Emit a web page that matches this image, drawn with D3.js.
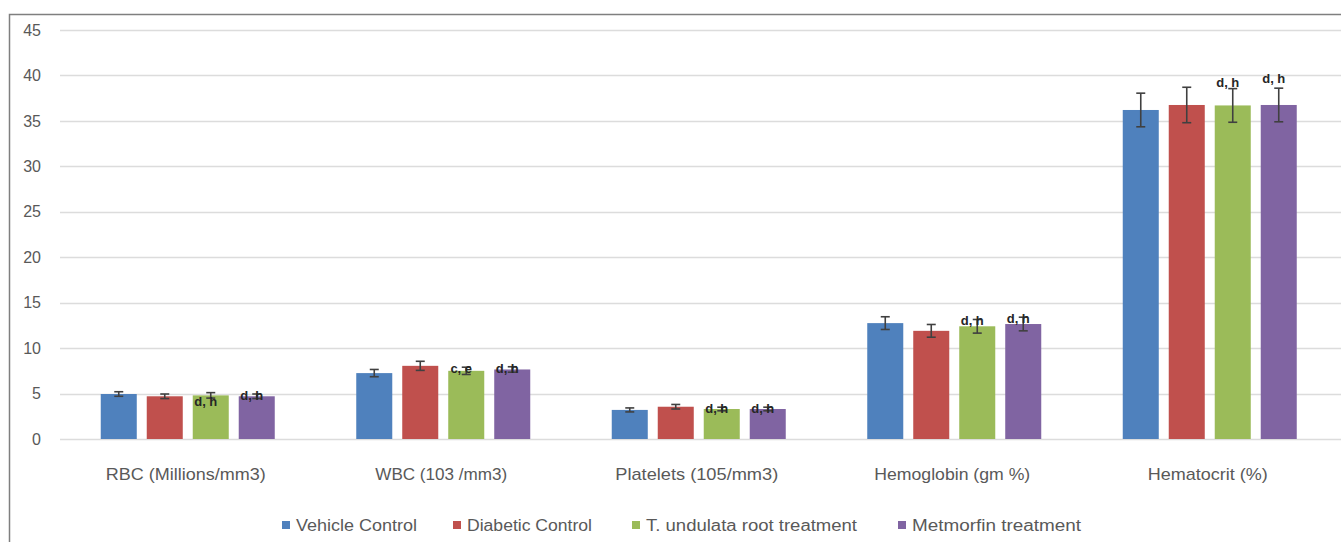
<!DOCTYPE html>
<html>
<head>
<meta charset="utf-8">
<script src="https://cdn.jsdelivr.net/npm/d3@7"></script>
<style>
    html, body { margin: 0; padding: 0; background: #fff; }
    svg { display: block; }
</style>
</head>
<body>
<script>
// chart data
const categories = ['RBC (Millions/mm3)', 'WBC (103 /mm3)', 'Platelets (105/mm3)', 'Hemoglobin (gm %)', 'Hematocrit (%)'];
const seriesNames = ['Vehicle Control', 'Diabetic Control', 'T. undulata root treatment', 'Metmorfin treatment'];
const seriesColors = ['#4F81BD', '#C0504D', '#9BBB59', '#8064A2'];

const vehicleControl = [4.95, 7.25, 3.2, 12.75, 36.2];
const diabeticControl = [4.7, 8.05, 3.55, 11.9, 36.75];
const undulataTreatment = [4.8, 7.5, 3.3, 12.4, 36.7];
const metforminTreatment = [4.7, 7.65, 3.3, 12.65, 36.75];

const vehicleError = [0.25, 0.4, 0.22, 0.7, 1.85];
const diabeticError = [0.25, 0.5, 0.25, 0.7, 1.95];
const undulataError = [0.3, 0.4, 0.2, 0.75, 1.85];
const metforminError = [0.25, 0.3, 0.2, 0.75, 1.85];

const undulataLabels = ['d, h', 'c, e', 'd, h', 'd, h', 'd, h'];
const metforminLabels = ['d, h', 'd, h', 'd, h', 'd, h', 'd, h'];

const yTicks = [0, 5, 10, 15, 20, 25, 30, 35, 40, 45];

drawChart();

function drawChart()
{
    const width = 1341;
    const height = 542;

    const marginTop = 30;
    const marginLeft = 60;
    const plotRight = 1337.5;
    const plotBottom = 439;

    const labelFont = 'Liberation Sans, Arial, sans-serif';

    const values = [vehicleControl, diabeticControl, undulataTreatment, metforminTreatment];
    const errors = [vehicleError, diabeticError, undulataError, metforminError];
    const labels = [null, null, undulataLabels, metforminLabels];

    const rows = [];
    categories.forEach((c, i) =>
    {
        seriesNames.forEach((s, j) =>
        {
            rows.push({ cat: c, series: s, idx: j, value: values[j][i], err: errors[j][i], label: labels[j] ? labels[j][i] : null, ci: i });
        });
    });

    const svg = d3.select('body').append('svg')
        .attr('width', width)
        .attr('height', height);

    // outer frame
    svg.append('path')
        .attr('d', `M9.5,${height} V14.5 H${width}`)
        .attr('fill', 'none')
        .attr('stroke', '#7f7f7f')
        .attr('stroke-width', 1.5);

    const x = d3.scaleBand()
        .domain(categories)
        .range([marginLeft, plotRight]);

    const groupWidth = 174;
    const xInner = d3.scaleBand()
        .domain(seriesNames)
        .range([0, groupWidth])
        .paddingInner(0.217);

    const groupOffset = (x.bandwidth() - groupWidth) / 2;

    const y = d3.scaleLinear()
        .domain([0, 45])
        .range([plotBottom, marginTop]);

    // gridlines
    svg.selectAll('line.grid')
        .data(yTicks)
        .enter()
        .append('line')
        .attr('class', 'grid')
        .attr('x1', marginLeft)
        .attr('x2', width)
        .attr('y1', d => Math.round(y(d)) + 0.5)
        .attr('y2', d => Math.round(y(d)) + 0.5)
        .attr('stroke', '#dcdcdc')
        .attr('stroke-width', 1.5);

    // y-axis labels
    const yAxis = d3.axisLeft(y).tickValues(yTicks).tickSize(0).tickPadding(0);
    svg.append('g')
        .attr('transform', `translate(41, 0)`)
        .call(yAxis)
        .call(g => g.select('.domain').remove())
        .selectAll('text')
        .attr('fill', '#595959')
        .style('font-family', labelFont)
        .style('font-size', '16px');

    // bars
    const barX = d => x(d.cat) + groupOffset + xInner(d.series);

    svg.selectAll('.bar')
        .data(rows)
        .enter()
        .append('rect')
        .attr('class', 'bar')
        .attr('x', barX)
        .attr('y', d => y(d.value))
        .attr('width', xInner.bandwidth())
        .attr('height', d => y(0) - y(d.value))
        .attr('fill', d => seriesColors[d.idx]);

    // error bars
    const eb = svg.selectAll('.err')
        .data(rows)
        .enter()
        .append('g')
        .attr('class', 'err')
        .attr('stroke', '#404040')
        .attr('stroke-width', 1.6);

    const cx = d => barX(d) + xInner.bandwidth() / 2;

    eb.append('line')
        .attr('x1', cx).attr('x2', cx)
        .attr('y1', d => y(d.value + d.err))
        .attr('y2', d => y(d.value - d.err));
    eb.append('line')
        .attr('x1', d => cx(d) - 4.5).attr('x2', d => cx(d) + 4.5)
        .attr('y1', d => y(d.value + d.err))
        .attr('y2', d => y(d.value + d.err));
    eb.append('line')
        .attr('x1', d => cx(d) - 4.5).attr('x2', d => cx(d) + 4.5)
        .attr('y1', d => y(d.value - d.err))
        .attr('y2', d => y(d.value - d.err));

    // significance labels
    svg.selectAll('.sig')
        .data(rows.filter(d => d.label))
        .enter()
        .append('text')
        .attr('class', 'sig')
        .attr('x', d => cx(d) - 5)
        .attr('y', d =>
        {
            // first group's T. undulata label sits inside the bar
            if (d.ci === 0 && d.idx === 2) return y(d.value) + 11;
            // tall group: labels float above the error bars
            if (d.ci === 4) return y(d.value + d.err) - 2 - (d.idx === 3 ? 3 : 0);
            return y(d.value + d.err) + 6;
        })
        .attr('text-anchor', 'middle')
        .attr('fill', '#262626')
        .style('font-family', labelFont)
        .style('font-weight', 'bold')
        .style('font-size', '13px')
        .text(d => d.label);

    // x-axis labels
    const catWidths = [160, 132, 163, 156, 120];
    svg.selectAll('.cat')
        .data(categories)
        .enter()
        .append('text')
        .attr('class', 'cat')
        .attr('x', d => x(d) + x.bandwidth() / 2 - 2)
        .attr('y', 480)
        .attr('text-anchor', 'middle')
        .attr('fill', '#595959')
        .attr('textLength', (d, i) => catWidths[i])
        .attr('lengthAdjust', 'spacingAndGlyphs')
        .style('font-family', labelFont)
        .style('font-size', '17px')
        .text(d => d);

    // legend
    const legendX = [282, 453, 632, 898];
    const legendWidths = [121, 125, 211, 169];
    const legend = svg.selectAll('.legend')
        .data(seriesNames)
        .enter()
        .append('g')
        .attr('class', 'legend')
        .attr('transform', (d, i) => `translate(${legendX[i]}, 525)`);

    legend.append('rect')
        .attr('x', 0)
        .attr('y', -4)
        .attr('width', 8)
        .attr('height', 8)
        .attr('fill', (d, i) => seriesColors[i]);

    legend.append('text')
        .attr('x', 14)
        .attr('y', 5.5)
        .attr('fill', '#595959')
        .attr('textLength', (d, i) => legendWidths[i])
        .attr('lengthAdjust', 'spacingAndGlyphs')
        .style('font-family', labelFont)
        .style('font-size', '16px')
        .text(d => d);
}
</script>
</body>
</html>
